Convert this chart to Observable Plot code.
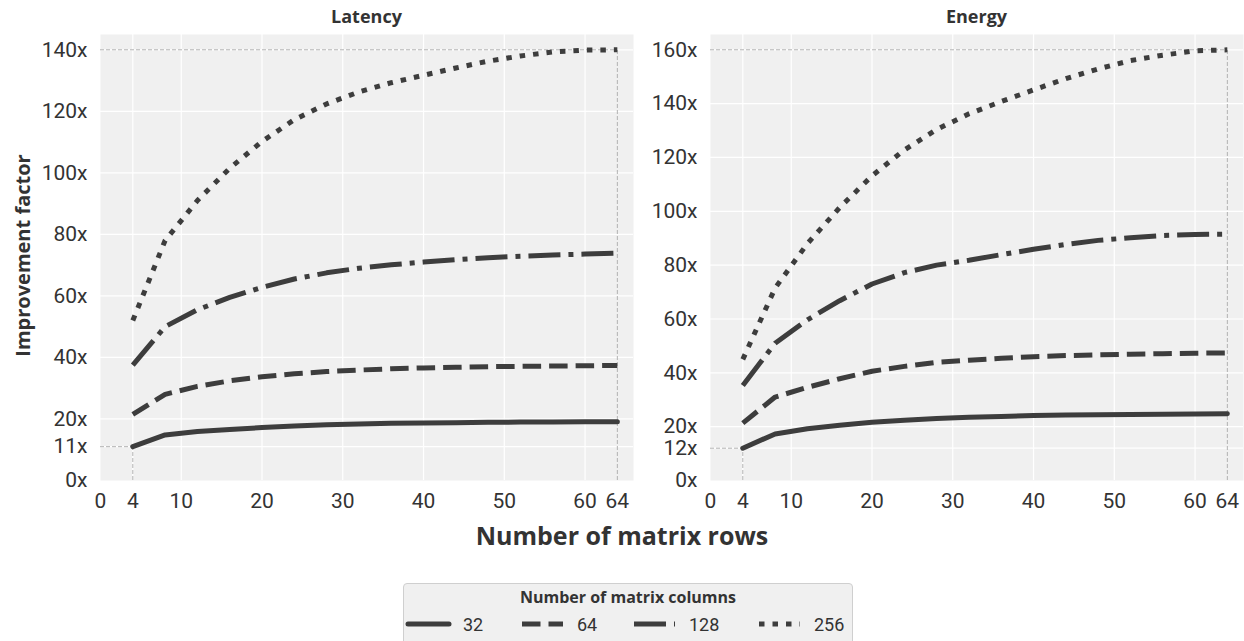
<!DOCTYPE html>
<html>
<head>
<meta charset="utf-8">
<script src="https://cdn.jsdelivr.net/npm/d3@7"></script>
<script src="https://cdn.jsdelivr.net/npm/@observablehq/plot@0.6"></script>
<style>
  body { margin: 0; background: #fff; }
  #root { position: relative; width: 1244px; height: 641px; overflow: hidden; color: #333; font-family: Roboto, sans-serif; }
  .abs { position: absolute; }
  .title { font-family: "Open Sans", sans-serif; font-weight: 700; font-size: 18px; color: #333; text-align: center; }
  .ylab { font-family: "Open Sans", sans-serif; font-weight: 700; font-size: 20px; color: #333; white-space: nowrap; transform-origin: center; }
  .xlab { font-family: "Open Sans", sans-serif; font-weight: 700; font-size: 25px; color: #333; text-align: center; white-space: nowrap; }
  #legend { left: 403px; top: 583px; width: 448px; height: 60px; background: #f0f0f0; border: 1px solid #cfcfcf; border-radius: 4px; }
  #legend .ltitle { font-family: "Open Sans", sans-serif; font-weight: 700; font-size: 16px; text-align: center; margin-top: 2px; color: #333; }
</style>
</head>
<body>
<div id="root"></div>
<script>
// ---------------- data ----------------
const rows = [4, 8, 12, 16, 20, 24, 28, 32, 36, 40, 44, 48, 52, 56, 60, 64];
const columns = ["32", "64", "128", "256"];

const latency32  = [11, 14.8, 15.9, 16.6, 17.2, 17.7, 18.1, 18.4, 18.6, 18.7, 18.8, 18.9, 19.0, 19.0, 19.1, 19.1];
const latency64  = [21.5, 28, 30.6, 32.4, 33.7, 34.7, 35.4, 35.9, 36.3, 36.6, 36.8, 37.0, 37.1, 37.2, 37.3, 37.4];
const latency128 = [37.5, 50, 55.5, 59.5, 62.8, 65.5, 67.5, 69.0, 70.1, 71.0, 71.8, 72.4, 72.9, 73.3, 73.6, 73.9];
const latency256 = [52, 78, 91, 101.5, 110.2, 117.3, 122.4, 126.3, 129.3, 131.7, 134.1, 136.3, 138, 139.3, 139.9, 140];

const energy32  = [12, 17.3, 19.2, 20.5, 21.6, 22.4, 23.0, 23.5, 23.8, 24.1, 24.3, 24.4, 24.5, 24.6, 24.7, 24.8];
const energy64  = [21.3, 31, 34.6, 37.8, 40.6, 42.4, 43.9, 44.7, 45.4, 46.0, 46.4, 46.7, 46.9, 47.1, 47.3, 47.4];
const energy128 = [35.3, 51, 59.7, 66.8, 73, 77.2, 80, 81.8, 83.9, 85.9, 87.7, 89.2, 90.2, 91.0, 91.4, 91.5];
const energy256 = [45, 71.5, 88, 101.4, 113.2, 122.8, 130.4, 136.2, 140.8, 145.1, 149.3, 152.9, 156, 158, 159.6, 160];

const xTicks = [0, 4, 10, 20, 30, 40, 50, 60, 64];
const latencyYTicks = [0, 11, 20, 40, 60, 80, 100, 120, 140];
const energyYTicks  = [0, 12, 20, 40, 60, 80, 100, 120, 140, 160];

// ---------------- styles ----------------
const lineColor = "#3d3d3d";
const dashes = { "32": null, "64": "18.5,8", "128": "32,8,5,8", "256": "5.5,8" };
const caps = { "32": "round", "64": "butt", "128": "butt", "256": "butt" };

const root = document.getElementById("root");

function panel({ series, yTicks, left, width, marginLeft, marginRight }) {
  const all = columns.flatMap((c, k) => series[k].map((v, i) => ({ col: c, x: rows[i], y: v })));
  const maxVal = d3.max(series[3]);
  const minVal = series[0][0];
  const lastRow = rows[rows.length - 1];
  const firstRow = rows[0];
  const refsH = [{ y: maxVal, x1: 0, x2: lastRow }, { y: minVal, x1: 0, x2: firstRow }];
  const refsV = [{ x: lastRow, y1: 0, y2: maxVal }, { x: firstRow, y1: 0, y2: minVal }];
  const chart = Plot.plot({
    width, height: 515,
    marginLeft, marginRight, marginTop: 34, marginBottom: 35,
    style: { fontFamily: "Roboto, sans-serif", fontSize: "21px", color: "#333", background: "transparent", overflow: "visible" },
    x: { domain: [0, 66], label: null },
    y: { domain: [0, maxVal * 1.0355], label: null },
    marks: [
      Plot.frame({ fill: "#f0f0f0", stroke: null }),
      Plot.gridX(xTicks.slice(1, -1), { stroke: "#ffffff", strokeOpacity: 1, strokeWidth: 1.2 }),
      Plot.gridY(yTicks.slice(1), { stroke: "#ffffff", strokeOpacity: 1, strokeWidth: 1.2 }),
      Plot.ruleY(refsH, { y: "y", x1: "x1", x2: "x2", stroke: "#aaaaaa", strokeWidth: 0.9, strokeDasharray: "4,2" }),
      Plot.ruleX(refsV, { x: "x", y1: "y1", y2: "y2", stroke: "#aaaaaa", strokeWidth: 0.9, strokeDasharray: "4,2" }),
      Plot.axisX({ ticks: xTicks, tickSize: 0, tickPadding: 13, label: null }),
      Plot.axisY({ ticks: yTicks, tickSize: 0, tickPadding: 13, tickFormat: d => d + "x", label: null }),
      ...columns.map(c => Plot.line(all.filter(d => d.col === c), {
        x: "x", y: "y", stroke: lineColor, strokeWidth: 5,
        strokeDasharray: dashes[c], strokeLinecap: caps[c], strokeLinejoin: "round"
      }))
    ]
  });
  chart.style.position = "absolute";
  chart.style.left = left + "px";
  chart.style.top = "0px";
  root.appendChild(chart);
}

panel({ series: [latency32, latency64, latency128, latency256], yTicks: latencyYTicks, left: 0, width: 640, marginLeft: 100, marginRight: 7 });
panel({ series: [energy32, energy64, energy128, energy256], yTicks: energyYTicks, left: 640, width: 604, marginLeft: 70, marginRight: 1 });

function addDiv(cls, text, css) {
  const d = document.createElement("div");
  d.className = "abs " + cls;
  d.textContent = text;
  Object.assign(d.style, css);
  root.appendChild(d);
  return d;
}
addDiv("title", "Latency", { left: "100px", width: "533px", top: "4px" });
addDiv("title", "Energy", { left: "710px", width: "533px", top: "4px" });
addDiv("ylab", "Improvement factor", { left: "-90px", width: "224px", top: "242px", textAlign: "center", transform: "rotate(-90deg)" });
addDiv("xlab", "Number of matrix rows", { left: "322px", width: "600px", top: "518px" });

// legend
const legend = document.createElement("div");
legend.id = "legend";
legend.className = "abs";
legend.innerHTML = '<div class="ltitle">Number of matrix columns</div>';
root.appendChild(legend);
const lsvg = d3.select(legend).append("svg").attr("width", 448).attr("height", 30)
  .style("position", "absolute").style("left", "0px").style("top", "25px");
const itemX = [4, 118, 230, 355];
columns.forEach((c, i) => {
  lsvg.append("line").attr("x1", itemX[i]).attr("x2", itemX[i] + 41).attr("y1", 15).attr("y2", 15)
    .attr("stroke", lineColor).attr("stroke-width", 5)
    .attr("stroke-dasharray", dashes[c]).attr("stroke-linecap", caps[c]);
  lsvg.append("text").attr("x", itemX[i] + 55).attr("y", 21.5).text(c)
    .attr("font-family", "Roboto, sans-serif").attr("font-size", 18).attr("fill", "#333");
});
</script>
</body>
</html>
